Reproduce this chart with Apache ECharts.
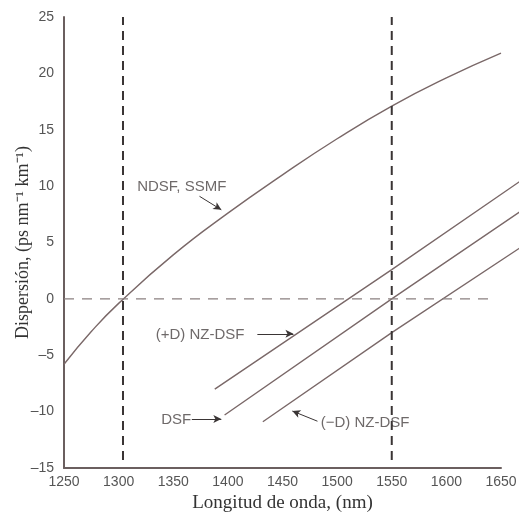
<!DOCTYPE html>
<html>
<head>
<meta charset="utf-8">
<script src="https://cdn.jsdelivr.net/npm/echarts@6/dist/echarts.min.js"></script>
<style>
html,body{margin:0;padding:0;background:#fff}
#main{width:519px;height:521px}
</style>
</head>
<body>
<div id="main"></div>
<script>
//datos
var ndsf_x=[1250,1275,1300,1350,1400,1450,1500,1550,1600,1650]
var ndsf_y=[-5.8,-2.9,-0.4,3.9,7.6,11.0,14.2,17.1,19.6,21.8]
var nzp_x=[1388,1550,1667]
var nzp_y=[-8.0,2.6,10.4]
var dsf_x=[1397,1550,1667]
var dsf_y=[-10.3,0,7.7]
var nzn_x=[1432,1550,1667]
var nzn_y=[-10.9,-3.0,4.5]
var vlines=[1304,1550]
var vline_y=[-14.3,25]
var hline_x=[1250,1643]

//etiquetas y flechas
var labels=[
    {name:'NDSF, SSMF',value:[1317,9.95]},
    {name:'(+D) NZ-DSF',value:[1334,-3.2]},
    {name:'DSF',value:[1339,-10.7]},
    {name:'(\u2212D) NZ-DSF',value:[1485,-11.0]}
]
var arrows=[
    [[1374,9.1],[1394,7.9]],
    [[1427,-3.1],[1460,-3.1]],
    [[1367,-10.65],[1394,-10.65]],
    [[1482,-10.85],[1459,-9.95]]
]

function pairs(xs,ys){
    var out=[]
    for(var i=0;i<xs.length;i++) out.push([xs[i],ys[i]])
    return out
}

var lineColor='#7a6868'
var series=[]
function addLine(data,smooth,idx){
    series.push({type:'line',data:data,showSymbol:false,smooth:smooth,xAxisIndex:idx,yAxisIndex:idx,
        lineStyle:{color:lineColor,width:1.4},silent:true})
}
addLine(pairs(ndsf_x,ndsf_y),true,0)
//las rectas salen del eje por la derecha: van en una segunda rejilla mas ancha
addLine(pairs(nzp_x,nzp_y),false,1)
addLine(pairs(dsf_x,dsf_y),false,1)
addLine(pairs(nzn_x,nzn_y),false,1)

vlines.forEach(function(v){
    series.push({type:'line',data:[[v,vline_y[0]],[v,vline_y[1]]],showSymbol:false,silent:true,
        lineStyle:{color:'#3a3535',width:2,type:[9,6]}})
})
series.push({type:'line',data:[[hline_x[0],0],[hline_x[1],0]],showSymbol:false,silent:true,
    lineStyle:{color:'#8a8080',width:1.3,type:[10,8]}})

series.push({type:'scatter',data:labels,symbolSize:0,silent:true,
    label:{show:true,position:'right',distance:0,formatter:'{b}',color:'#4a4444',
        fontFamily:'Liberation Sans',fontSize:15}})

series.push({type:'line',data:[],silent:true,
    markLine:{silent:true,symbol:['none','arrow'],symbolSize:[6,8],label:{show:false},
        lineStyle:{color:'#3a3535',width:1,type:'solid'},
        data:arrows.map(function(a){return [{coord:a[0]},{coord:a[1]}]})}})

function numFmt(v){
    return v<0 ? '\u2013'+(-v) : ''+v
}

var myChart=echarts.init(document.getElementById('main'))
var pxPerNm=(519-64-18)/400
var option={
    animation:false,
    grid:[{left:64,right:18,top:17,bottom:53,containLabel:false,outerBoundsMode:'none'},
        {left:64,right:0,top:17,bottom:53,containLabel:false,outerBoundsMode:'none'}],
    xAxis:[{type:'value',min:1250,max:1650,interval:50,
        name:'Longitud de onda, (nm)',nameLocation:'middle',nameGap:20,
        nameTextStyle:{fontFamily:'Liberation Serif',fontSize:19,color:'#333'},
        axisLine:{onZero:false,lineStyle:{color:'#6b5f5f',width:2}},axisTick:{show:false},splitLine:{show:false},
        axisLabel:{color:'#555',fontFamily:'Liberation Sans',fontSize:14,margin:7,formatter:numFmt}},
        {type:'value',gridIndex:1,min:1250,max:1250+(519-64)/pxPerNm,show:false}],
    yAxis:[{type:'value',min:-15,max:25,interval:5,
        name:'Dispersión, (ps nm\u207B\u00B9 km\u207B\u00B9)',nameLocation:'middle',nameGap:32,nameMoveOverlap:false,
        nameTextStyle:{fontFamily:'Liberation Serif',fontSize:18,color:'#333'},
        axisLine:{show:true,onZero:false,lineStyle:{color:'#6b5f5f',width:2}},axisTick:{show:false},splitLine:{show:false},
        axisLabel:{color:'#555',fontFamily:'Liberation Sans',fontSize:14,margin:10,formatter:numFmt}},
        {type:'value',gridIndex:1,min:-15,max:25,show:false}],
    series:series
}
myChart.setOption(option)
</script>
</body>
</html>
